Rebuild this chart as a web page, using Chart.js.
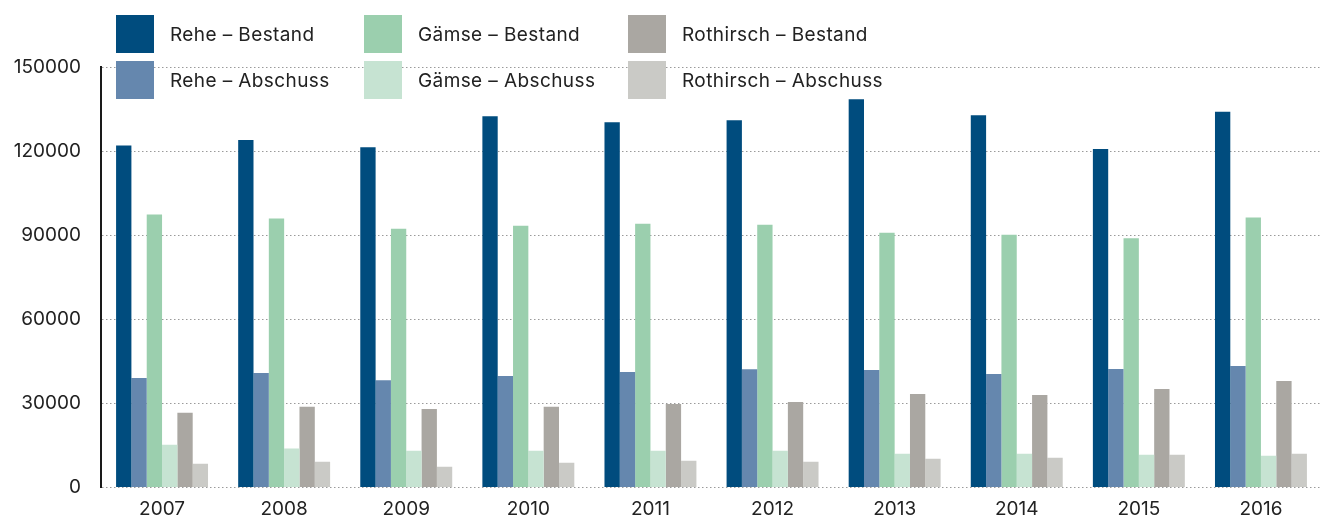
<!DOCTYPE html>
<html>
<head>
<meta charset="utf-8">
<script src="https://cdn.jsdelivr.net/npm/chart.js@4"></script>
<style>
  html, body { margin: 0; padding: 0; background: #fff; }
  #wrap { position: relative; width: 1326px; height: 519px; }
  #legend { position: absolute; left: 0; top: 0; width: 1326px; height: 110px; pointer-events: none; }
  .li { position: absolute; display: flex; align-items: center; font-family: "Inter", "Noto Sans", sans-serif; font-size: 19px; letter-spacing: 0.4px; color: #222; white-space: nowrap; }
  .li .sw { width: 38px; height: 38px; margin-right: 16px; flex: none; }
</style>
</head>
<body>
<div id="wrap">
  <canvas id="c" width="1326" height="519"></canvas>
  <div id="legend"></div>
</div>
<script>
const years = ["2007","2008","2009","2010","2011","2012","2013","2014","2015","2016"];
const reheBestand      = [122000,124000,121400,132400,130300,131000,138500,132800,120800,134000];
const reheAbschuss     = [39100,40900,38300,39800,41200,42200,41900,40500,42300,43400];
const gaemseBestand    = [97400,96000,92300,93400,94100,93700,90900,90200,88900,96300];
const gaemseAbschuss   = [15300,13900,13100,13100,13100,13100,12100,12100,11700,11400];
const hirschBestand    = [26700,28800,28000,28800,29800,30500,33400,33000,35200,38000];
const hirschAbschuss   = [8500,9240,7460,8900,9600,9230,10300,10650,11700,12100];
const yTicks = [0,30000,60000,90000,120000,150000];

const seriesNames = ["Rehe – Bestand","Rehe – Abschuss","Gämse – Bestand","Gämse – Abschuss","Rothirsch – Bestand","Rothirsch – Abschuss"];
const seriesColors = ["#004c7e","#6587ae","#9bcfae","#c6e3d2","#aaa7a2","#cacac6"];
const seriesData = [reheBestand, reheAbschuss, gaemseBestand, gaemseAbschuss, hirschBestand, hirschAbschuss];

const FONT = '"Inter", "Noto Sans", sans-serif';

const chart = new Chart(document.getElementById('c'), {
  type: 'bar',
  data: {
    labels: years,
    datasets: seriesData.map((d, i) => ({
      label: seriesNames[i],
      data: d,
      backgroundColor: seriesColors[i],
      borderWidth: 0,
      categoryPercentage: 0.753,
      barPercentage: 1.0
    }))
  },
  options: {
    responsive: false,
    animation: false,
    layout: { padding: { top: 67, right: 4, bottom: 0, left: 0 } },
    plugins: { legend: { display: false }, tooltip: { enabled: false } },
    scales: {
      x: {
        grid: { display: false, drawTicks: false },
        border: { display: false },
        ticks: { color: '#222', font: { family: FONT, size: 19 }, padding: 10 },
        afterFit: s => { s.height = 30; }
      },
      y: {
        min: 0, max: 150000,
        afterBuildTicks: s => { s.ticks = yTicks.map(v => ({ value: v })); },
        grid: { color: '#9a9a9a', lineWidth: 1, drawTicks: false },
        border: { display: true, color: '#1a1a1a', width: 2, dash: [1.5, 2.5] },
        ticks: { color: '#222', font: { family: FONT, size: 19 }, padding: 20,
                 callback: v => String(v) },
        afterFit: s => { s.width = 101; }
      }
    }
  }
});

// HTML legend built from datasets
const legendOrder = [0,2,4,1,3,5];
const legendPos = [[116,15],[364,15],[628,15],[116,61],[364,61],[628,61]];
const lg = document.getElementById('legend');
legendOrder.forEach((di, k) => {
  const ds = chart.data.datasets[di];
  const el = document.createElement('div');
  el.className = 'li';
  el.style.left = legendPos[k][0] + 'px';
  el.style.top = legendPos[k][1] + 'px';
  const sw = document.createElement('span');
  sw.className = 'sw';
  sw.style.background = ds.backgroundColor;
  const tx = document.createElement('span');
  tx.textContent = ds.label;
  el.appendChild(sw); el.appendChild(tx);
  lg.appendChild(el);
});
</script>
</body>
</html>
